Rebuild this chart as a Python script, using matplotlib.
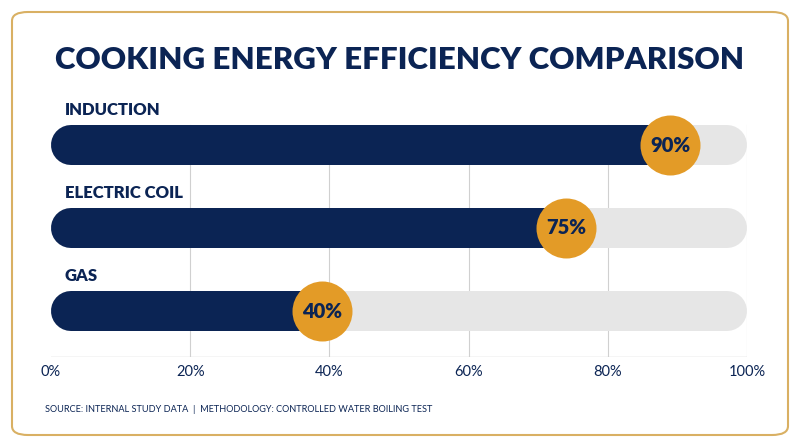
import matplotlib.pyplot as plt
from matplotlib.patches import FancyBboxPatch

categories = ["INDUCTION", "ELECTRIC COIL", "GAS"]
values = [90, 75, 40]
ticks = [0, 20, 40, 60, 80, 100]

NAVY = "#0b2454"
GOLD = "#e39b27"
GRAY = "#e6e6e6"
W, H = 800, 447

plt.rcParams["font.family"] = ["Lato", "DejaVu Sans"]
fig = plt.figure(figsize=(8, 4.47), dpi=100)

# rounded gold frame
frame = FancyBboxPatch((12 / W, 12 / H), 776 / W, 423 / H,
                       boxstyle="round,pad=0,rounding_size=0.02",
                       transform=fig.transFigure, fc="none", ec="#d9b063", lw=1.5)
fig.patches.append(frame)

fig.text(0.5, (447 - 60) / H, "COOKING ENERGY EFFICIENCY COMPARISON",
         ha="center", va="center", fontsize=22.5, fontweight="heavy", color=NAVY)
fig.text(45 / W, (447 - 410) / H,
         "SOURCE: INTERNAL STUDY DATA  |  METHODOLOGY: CONTROLLED WATER BOILING TEST",
         ha="left", va="center", fontsize=6.6, color=NAVY)

x0, x1, ytop, ybot = 51, 747, 100, 357
ax = fig.add_axes([x0 / W, (H - ybot) / H, (x1 - x0) / W, (ybot - ytop) / H])
ax.set_xlim(0, 100)
ax.set_ylim(ybot, ytop)  # pixel-like y units, top-down
ax.patch.set_alpha(0)
for s in ax.spines.values():
    s.set_visible(False)
ax.axhline(ybot, color="#d0d0d0", lw=1, zorder=1)
for t in ticks[1:]:
    ax.plot([t, t], [125, ybot], color="#d0d0d0", lw=0.8, zorder=1)
ax.set_yticks([])
ax.set_xticks(ticks, [f"{t}%" for t in ticks])
ax.tick_params(axis="x", length=0, pad=6, labelsize=10.5, labelcolor=NAVY)

bar_px = 40
lw = bar_px * 72 / 100
cap = (bar_px / 2) / (x1 - x0) * 100  # round-cap overhang in data units
for i, (cat, v) in enumerate(zip(categories, values)):
    y = 145 + i * 83
    ax.plot([cap, 100 - cap], [y, y], color=GRAY, lw=lw, solid_capstyle="round", zorder=2)
    ax.plot([cap, v - cap], [y, y], color=NAVY, lw=lw, solid_capstyle="round", zorder=3)
    ax.scatter([v - 1], [y], s=(60 * 72 / 100) ** 2, color=GOLD, zorder=4, linewidths=0)
    ax.text(v - 1, y, f"{v}%", ha="center", va="center", fontsize=14.5,
            fontweight="heavy", color=NAVY, zorder=5)
    ax.text(2, y - 35, cat, ha="left", va="center", fontsize=12,
            fontweight="heavy", color=NAVY, clip_on=False)

fig.savefig("out.png", dpi=100)
